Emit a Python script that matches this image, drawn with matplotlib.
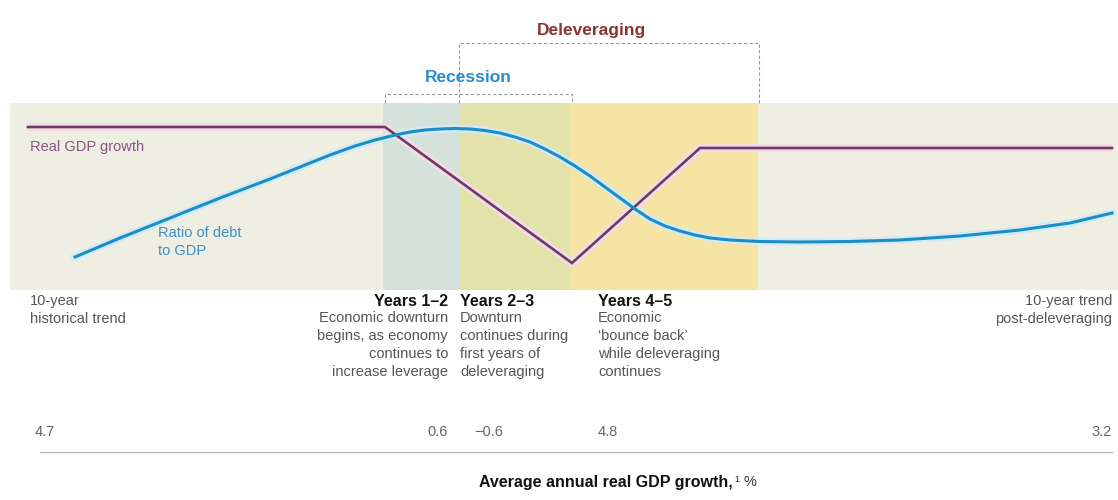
import numpy as np
import matplotlib.pyplot as plt

plt.rcParams['font.family'] = ['Liberation Sans Narrow', 'Liberation Sans', 'DejaVu Sans']

# schematic in picture units (x to the right, y downwards)
band_edges = [10, 383, 460, 570, 758, 1118]
band_colors = ['#efeee3', '#d5e2dc', '#e4e2ab', '#f5e4a3', '#efeee3']
band_top, band_bottom = 103, 290

gdp_x = [28, 385, 572, 700, 1112]
gdp_y = [127, 127, 263, 148, 148]

debt_x = [75, 120, 170, 220, 270, 300, 330, 355, 375, 395, 410, 425, 440, 455,
          470, 485, 500, 515, 530, 545, 560, 575, 590, 605, 620, 635, 650, 665,
          680, 695, 710, 730, 760, 800, 850, 900, 960, 1020, 1070, 1112]
debt_y = [257, 238, 218, 198, 179, 167, 155, 146, 140, 135, 132, 130, 129, 128.5,
          129, 130.5, 133, 137, 142, 149, 157, 166, 176, 187, 198, 209, 219, 226,
          231, 235, 238, 240, 241.5, 242, 241.5, 240, 236, 230, 223, 213]

phases = ['Years 1–2', 'Years 2–3', 'Years 4–5']
phase_x = [448, 460, 598]
phase_ha = ['right', 'left', 'left']
phase_desc = ['Economic downturn\nbegins, as economy\ncontinues to\nincrease leverage',
              'Downturn\ncontinues during\nfirst years of\ndeleveraging',
              'Economic\n\u2018bounce back\u2019\nwhile deleveraging\ncontinues']

growth = ['4.7', '0.6', '\u22120.6', '4.8', '3.2']
growth_x = [35, 448, 474, 598, 1112]
growth_ha = ['left', 'right', 'left', 'left', 'right']

fig = plt.figure(figsize=(11.18, 5), dpi=100)
ax = fig.add_axes([0, 0, 1, 1])
ax.set_xlim(0, 1118)
ax.set_ylim(500, 0)
ax.axis('off')

# background bands
for x0, x1, c in zip(band_edges[:-1], band_edges[1:], band_colors):
    ax.fill_between([x0, x1], band_top, band_bottom, color=c, lw=0, zorder=0)

# brackets
dash = dict(color='#9a9a9a', lw=0.8, ls=(0, (3, 2)), zorder=1)
ax.plot([385, 385, 572, 572], [band_top, 94, 94, band_top], **dash)
ax.plot([459, 459, 759, 759], [band_top, 43, 43, band_top], **dash)
ax.text(468, 77, 'Recession', color='#2a8ccc', fontsize=12.5, fontweight='bold',
        ha='center', va='center')
ax.text(591, 30, 'Deleveraging', color='#8a3532', fontsize=12.5, fontweight='bold',
        ha='center', va='center')

# lines
ax.plot(gdp_x, gdp_y, color='#f2dde6', lw=6, solid_capstyle='butt', zorder=2)
ax.plot(gdp_x, gdp_y, color='#6f3a66', lw=1.9, solid_joinstyle='miter', zorder=3)
ax.plot(debt_x, debt_y, color='#d2ebf4', lw=5.5, zorder=2)
ax.plot(debt_x, debt_y, color='#1d8dc6', lw=2.2, zorder=4)

ax.text(30, 147, 'Real GDP growth', color='#8a5581', fontsize=10.5, va='center')
ax.text(158, 242, 'Ratio of debt\nto GDP', color='#3f8fc2', fontsize=10.5,
        va='center', linespacing=1.35)

# bottom annotations
grey = '#555555'
ax.text(30, 294, '10-year\nhistorical trend', color=grey, fontsize=10.5, va='top',
        linespacing=1.35)
ax.text(1112, 294, '10-year trend\npost-deleveraging', color=grey, fontsize=10.5,
        va='top', ha='right', multialignment='right', linespacing=1.35)
for name, x, ha, desc in zip(phases, phase_x, phase_ha, phase_desc):
    ax.text(x, 294, name, color='#111111', fontsize=11.5, fontweight='bold',
            ha=ha, va='top')
    ax.text(x, 311, desc, color=grey, fontsize=10.5, ha=ha, va='top',
            multialignment=ha, linespacing=1.35)

for s, x, ha in zip(growth, growth_x, growth_ha):
    ax.text(x, 432, s, color='#666666', fontsize=10.5, ha=ha, va='center')

ax.plot([40, 1112], [452, 452], color='#bbbbbb', lw=1)
ax.text(733, 482, 'Average annual real GDP growth,', color='#111111', fontsize=11.5,
        fontweight='bold', ha='right', va='center')
ax.text(735, 482, '\u00b9 %', color='#333333', fontsize=10.5, ha='left', va='center')

fig.savefig('out.png', dpi=100)
